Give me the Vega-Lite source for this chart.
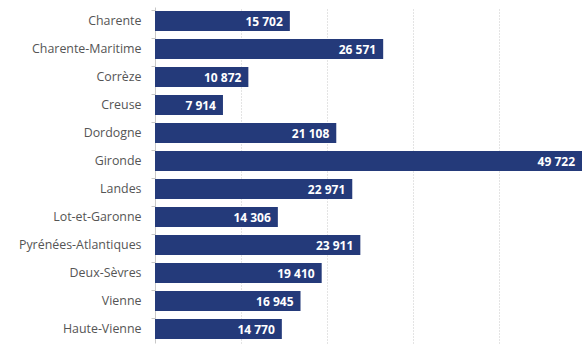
{
  "$schema": "https://vega.github.io/schema/vega-lite/v6.json",
  "width": 427,
  "height": 336,
  "autosize": {"type": "none"},
  "padding": {"left": 155, "top": 7, "right": 0, "bottom": 2},
  "config": {
    "view": {"stroke": null},
    "font": "Open Sans",
    "locale": {"number": {"decimal": ",", "thousands": " ", "grouping": [3], "currency": ["", " €"]}}
  },
  "data": {
    "values": [
      {"dep": "Charente", "v": 15702},
      {"dep": "Charente-Maritime", "v": 26571},
      {"dep": "Corrèze", "v": 10872},
      {"dep": "Creuse", "v": 7914},
      {"dep": "Dordogne", "v": 21108},
      {"dep": "Gironde", "v": 49722},
      {"dep": "Landes", "v": 22971},
      {"dep": "Lot-et-Garonne", "v": 14306},
      {"dep": "Pyrénées-Atlantiques", "v": 23911},
      {"dep": "Deux-Sèvres", "v": 19410},
      {"dep": "Vienne", "v": 16945},
      {"dep": "Haute-Vienne", "v": 14770}
    ]
  },
  "encoding": {
    "y": {
      "field": "dep", "type": "nominal", "sort": null, "title": null,
      "scale": {"paddingInner": 0.28, "paddingOuter": 0.14},
      "axis": {
        "bandPosition": 0, "tickSize": 4, "tickColor": "#c8c8c8", "domainColor": "#c8c8c8",
        "labelPadding": 10, "labelFontSize": 12.4, "labelColor": "#555555", "labelFont": "Open Sans",
        "grid": false
      }
    },
    "x": {
      "field": "v", "type": "quantitative", "title": null,
      "scale": {"domain": [0, 49722], "nice": false, "zero": true},
      "axis": {
        "labels": false, "ticks": false, "domain": false, "values": [10000, 20000, 30000, 40000],
        "grid": true, "gridDash": [1, 2], "gridColor": "#c8c8c8", "gridWidth": 1
      }
    }
  },
  "layer": [
    {"mark": {"type": "bar", "color": "#243a7a"}},
    {
      "mark": {"type": "text", "align": "right", "baseline": "middle", "dx": -7, "dy": 1, "color": "white", "fontWeight": "bold", "fontSize": 12},
      "encoding": {"text": {"field": "v", "type": "quantitative", "format": ",d"}}
    }
  ]
}
